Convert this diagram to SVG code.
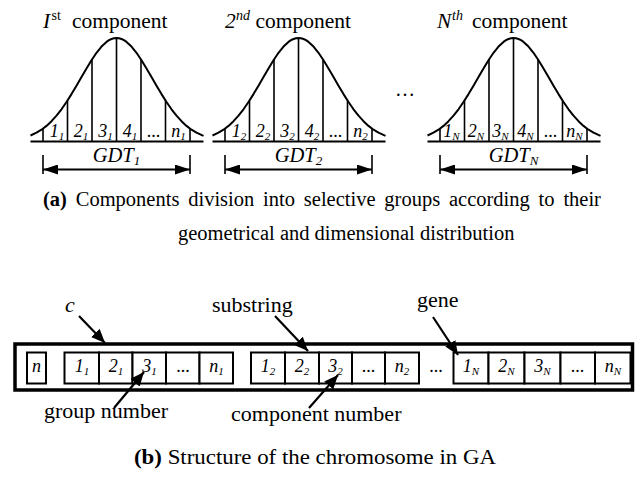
<svg xmlns="http://www.w3.org/2000/svg" width="638" height="477" viewBox="0 0 638 477" font-family="Liberation Serif, Times New Roman, serif">
  <style>
    text { fill: #000; }
    .it { font-style: italic; }
    .title { font-size: 21.5px; }
    .bin { font-size: 18px; font-style: italic; text-anchor: middle; }
    .sub { font-size: 11px; }
    .sup { font-size: 14px; }
    .gdt { font-size: 20.5px; font-style: italic; text-anchor: middle; }
    .cap { font-size: 20.5px; }
    .lbl { font-size: 22px; }
    .cell-t { font-size: 18px; font-style: italic; text-anchor: middle; }
    .curve { fill: none; stroke: #000; stroke-width: 2; stroke-linejoin: round; }
    .tick { stroke: #000; stroke-width: 1.6; }
    .base { stroke: #000; stroke-width: 2; }
    .dim { stroke: #000; stroke-width: 2.2; fill: none; }
    .cell { fill: #fff; stroke: #000; stroke-width: 2; }
    .frame { fill: #fff; stroke: #000; stroke-width: 3.5; }
    .ptr { stroke: #000; stroke-width: 2.2; fill: none; }
  </style>
  <defs>
    <marker id="dimHead" markerUnits="userSpaceOnUse" markerWidth="16" markerHeight="10" refX="15" refY="5" orient="auto-start-reverse">
      <path d="M0,0 L15,5 L0,10 z" fill="#000"/>
    </marker>
    <marker id="ptrHead" markerUnits="userSpaceOnUse" markerWidth="15" markerHeight="12" refX="14" refY="6" orient="auto">
      <path d="M0,0 L14,6 L0,12 z" fill="#000"/>
    </marker>
    <!-- bell curve of the size distribution, centred on x = 0, base at y = 141.5 -->
    <path id="bell" class="curve" d="M-86,135.5 L-80,132.7 L-75,129.7 L-70,125.9 L-65,121.2 L-60,115.7 L-55,109.3 L-50,102 L-45,94.1 L-40,85.7 L-35,77 L-30,68.4 L-25,60.2 L-20,52.8 L-15,46.6 L-10,41.9 L-7.5,40.2 L-5,39 L-2.5,38.3 L0,38 L2.5,38.3 L5,39 L7.5,40.2 L10,41.9 L15,46.6 L20,52.8 L25,60.2 L30,68.4 L35,77 L40,85.7 L45,94.1 L50,102 L55,109.3 L60,115.7 L65,121.2 L70,125.9 L75,129.7 L80,132.7 L87,135.8"/>
    <g id="bins">
      <line class="base" x1="-86" y1="141.5" x2="87" y2="141.5"/>
      <line class="tick" x1="-73.5" y1="128.6" x2="-73.5" y2="141.5"/>
      <line class="tick" x1="-49" y1="100.5" x2="-49" y2="141.5"/>
      <line class="tick" x1="-24.5" y1="59.4" x2="-24.5" y2="141.5"/>
      <line class="tick" x1="0" y1="38" x2="0" y2="141.5"/>
      <line class="tick" x1="24.5" y1="59.4" x2="24.5" y2="141.5"/>
      <line class="tick" x1="49" y1="100.5" x2="49" y2="141.5"/>
      <line class="tick" x1="73.5" y1="128.6" x2="73.5" y2="141.5"/>
    </g>
    <g id="span">
      <line class="tick" x1="-73.5" y1="155" x2="-73.5" y2="174"/>
      <line class="tick" x1="73.5" y1="155" x2="73.5" y2="174"/>
      <line class="dim" x1="-73.5" y1="169.5" x2="73.5" y2="169.5" marker-start="url(#dimHead)" marker-end="url(#dimHead)"/>
    </g>
  </defs>

  <!-- (a) distributions of the components -->
  <g id="component-1" transform="translate(116.5,0)">
    <text class="title" y="27.5"><tspan class="it" x="-73.5">I</tspan><tspan class="sup" x="-65" dy="-8">st</tspan><tspan x="-44.5" dy="8">component</tspan></text>
    <use href="#bell"/>
    <use href="#bins"/>
    <text class="bin" x="-59.5" y="136.5">1<tspan class="sub" dy="3.5">1</tspan></text>
    <text class="bin" x="-35.5" y="136.5">2<tspan class="sub" dy="3.5">1</tspan></text>
    <text class="bin" x="-11" y="136.5">3<tspan class="sub" dy="3.5">1</tspan></text>
    <text class="bin" x="13.5" y="136.5">4<tspan class="sub" dy="3.5">1</tspan></text>
    <text class="bin" x="37" y="136.5" style="font-style:normal">...</text>
    <text class="bin" x="62" y="136.5">n<tspan class="sub" dy="3.5">1</tspan></text>
    <use href="#span"/>
    <text class="gdt" x="0" y="161.5">GDT<tspan class="sub" dy="3.5" style="font-size:13px">1</tspan></text>
  </g>

  <g id="component-2" transform="translate(298.5,0)">
    <text class="title" y="27.5"><tspan class="it" x="-73.5">2</tspan><tspan class="sup it" x="-62.5" dy="-8">nd</tspan><tspan x="-43" dy="8">component</tspan></text>
    <use href="#bell"/>
    <use href="#bins"/>
    <text class="bin" x="-59.5" y="136.5">1<tspan class="sub" dy="3.5">2</tspan></text>
    <text class="bin" x="-35.5" y="136.5">2<tspan class="sub" dy="3.5">2</tspan></text>
    <text class="bin" x="-11" y="136.5">3<tspan class="sub" dy="3.5">2</tspan></text>
    <text class="bin" x="13.5" y="136.5">4<tspan class="sub" dy="3.5">2</tspan></text>
    <text class="bin" x="37" y="136.5" style="font-style:normal">...</text>
    <text class="bin" x="62" y="136.5">n<tspan class="sub" dy="3.5">2</tspan></text>
    <use href="#span"/>
    <text class="gdt" x="0" y="161.5">GDT<tspan class="sub" dy="3.5" style="font-size:13px">2</tspan></text>
  </g>

  <text id="more-components" x="405" y="96" font-size="20" text-anchor="middle">…</text>

  <g id="component-N" transform="translate(513.5,0)">
    <text class="title" y="27.5"><tspan class="it" x="-76.5">N</tspan><tspan class="sup it" x="-61.5" dy="-8">th</tspan><tspan x="-41.5" dy="8">component</tspan></text>
    <use href="#bell"/>
    <use href="#bins"/>
    <text class="bin" x="-62" y="136.5">1<tspan class="sub" dy="3.5">N</tspan></text>
    <text class="bin" x="-37.5" y="136.5">2<tspan class="sub" dy="3.5">N</tspan></text>
    <text class="bin" x="-13" y="136.5">3<tspan class="sub" dy="3.5">N</tspan></text>
    <text class="bin" x="12" y="136.5">4<tspan class="sub" dy="3.5">N</tspan></text>
    <text class="bin" x="37" y="136.5" style="font-style:normal">...</text>
    <text class="bin" x="61" y="136.5">n<tspan class="sub" dy="3.5">N</tspan></text>
    <use href="#span"/>
    <text class="gdt" x="0" y="161.5">GDT<tspan class="sub" dy="3.5" style="font-size:13px">N</tspan></text>
  </g>

  <g id="caption-a" class="cap">
    <text x="43" y="206" word-spacing="3.7"><tspan font-weight="bold">(a)</tspan> Components division into selective groups according to their</text>
    <text x="178" y="240">geometrical and dimensional distribution</text>
  </g>

  <!-- (b) chromosome layout -->
  <g id="chromosome">
    <rect class="frame" x="15" y="344" width="617.5" height="46"/>
    <g id="count-gene">
      <rect class="cell" x="27" y="352.5" width="19" height="31"/>
      <text class="cell-t" x="36.5" y="372">n</text>
    </g>
    <g id="substring-1">
      <rect class="cell" x="64.5" y="352.5" width="34.5" height="31"/>
      <rect class="cell" x="99" y="352.5" width="33.5" height="31"/>
      <rect class="cell" x="132.5" y="352.5" width="33.5" height="31"/>
      <rect class="cell" x="166" y="352.5" width="33.5" height="31"/>
      <rect class="cell" x="199.5" y="352.5" width="33.5" height="31"/>
      <text class="cell-t" x="82" y="372">1<tspan class="sub" dy="3">1</tspan></text>
      <text class="cell-t" x="116" y="372">2<tspan class="sub" dy="3">1</tspan></text>
      <text class="cell-t" x="149.5" y="372">3<tspan class="sub" dy="3">1</tspan></text>
      <text class="cell-t" x="183" y="372" style="font-style:normal">...</text>
      <text class="cell-t" x="216.5" y="372">n<tspan class="sub" dy="3">1</tspan></text>
    </g>
    <g id="substring-2">
      <rect class="cell" x="251" y="352.5" width="34" height="31"/>
      <rect class="cell" x="285" y="352.5" width="34" height="31"/>
      <rect class="cell" x="319" y="352.5" width="33" height="31"/>
      <rect class="cell" x="352" y="352.5" width="33" height="31"/>
      <rect class="cell" x="385" y="352.5" width="34" height="31"/>
      <text class="cell-t" x="268" y="372">1<tspan class="sub" dy="3">2</tspan></text>
      <text class="cell-t" x="302" y="372">2<tspan class="sub" dy="3">2</tspan></text>
      <text class="cell-t" x="335.5" y="372">3<tspan class="sub" dy="3">2</tspan></text>
      <text class="cell-t" x="368.5" y="372" style="font-style:normal">...</text>
      <text class="cell-t" x="402" y="372">n<tspan class="sub" dy="3">2</tspan></text>
    </g>
    <text id="more-substrings" class="cell-t" x="436" y="372" style="font-style:normal">...</text>
    <g id="substring-N">
      <rect class="cell" x="453.5" y="352.5" width="35" height="31"/>
      <rect class="cell" x="488.5" y="352.5" width="36" height="31"/>
      <rect class="cell" x="524.5" y="352.5" width="36" height="31"/>
      <rect class="cell" x="560.5" y="352.5" width="34.5" height="31"/>
      <rect class="cell" x="595" y="352.5" width="35.5" height="31"/>
      <text class="cell-t" x="471" y="372">1<tspan class="sub" dy="3">N</tspan></text>
      <text class="cell-t" x="506.5" y="372">2<tspan class="sub" dy="3">N</tspan></text>
      <text class="cell-t" x="542.5" y="372">3<tspan class="sub" dy="3">N</tspan></text>
      <text class="cell-t" x="577.5" y="372" style="font-style:normal">...</text>
      <text class="cell-t" x="613" y="372">n<tspan class="sub" dy="3">N</tspan></text>
    </g>
  </g>

  <g id="labels" class="lbl">
    <text class="it" x="65" y="312">c</text>
    <text x="212" y="312">substring</text>
    <text x="417" y="307">gene</text>
    <text x="44" y="418">group number</text>
    <text x="231" y="421">component number</text>
  </g>

  <g id="connectors">
    <line class="ptr" x1="79" y1="316" x2="105" y2="343" marker-end="url(#ptrHead)"/>
    <line class="ptr" x1="275" y1="316" x2="308" y2="351" marker-end="url(#ptrHead)"/>
    <line class="ptr" x1="433" y1="317" x2="458" y2="355" marker-end="url(#ptrHead)"/>
    <line class="ptr" x1="114" y1="408" x2="144" y2="372" marker-end="url(#ptrHead)"/>
    <line class="ptr" x1="309" y1="408" x2="338" y2="375" marker-end="url(#ptrHead)"/>
  </g>

  <g id="caption-b" class="cap">
    <text x="134" y="464" font-size="21.5" textLength="362" lengthAdjust="spacingAndGlyphs"><tspan font-weight="bold">(b)</tspan> Structure of the chromosome in GA</text>
  </g>
</svg>
